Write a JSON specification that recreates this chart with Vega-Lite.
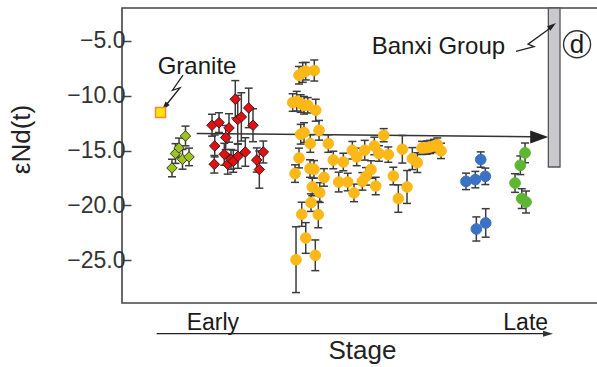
{
  "$schema": "https://vega.github.io/schema/vega-lite/v6.json",
  "width": 476,
  "height": 295,
  "autosize": {"type": "none"},
  "padding": {"left": 122, "top": 8, "right": 0, "bottom": 64},
  "config": {
    "font": "Liberation Sans",
    "view": {"stroke": "#444", "strokeWidth": 1.6},
    "axis": {"grid": false}
  },
  "datasets": {
    "pts": [
      {"p": 10.5, "v": -16.59, "lo": -17.39, "hi": -15.79, "g": "gd"},
      {"p": 11.24, "v": -15.27, "lo": -16.17, "hi": -14.37, "g": "gd"},
      {"p": 11.98, "v": -14.76, "lo": -15.66, "hi": -13.86, "g": "gd"},
      {"p": 12.71, "v": -15.8, "lo": -16.7, "hi": -14.9, "g": "gd"},
      {"p": 13.34, "v": -13.67, "lo": -14.57, "hi": -12.77, "g": "gd"},
      {"p": 14.08, "v": -15.58, "lo": -16.38, "hi": -14.78, "g": "gd"},
      {"p": 18.91, "v": -12.69, "lo": -13.69, "hi": -11.69, "g": "rd"},
      {"p": 20.38, "v": -12.45, "lo": -13.35, "hi": -11.55, "g": "rd"},
      {"p": 19.48, "v": -14.58, "lo": -15.58, "hi": -13.58, "g": "rd"},
      {"p": 19.39, "v": -16.25, "lo": -17.05, "hi": -15.45, "g": "rd"},
      {"p": 21.79, "v": -13.81, "lo": -14.91, "hi": -12.71, "g": "rd"},
      {"p": 21.49, "v": -15.34, "lo": -16.34, "hi": -14.34, "g": "rd"},
      {"p": 22.21, "v": -16.25, "lo": -17.15, "hi": -15.35, "g": "rd"},
      {"p": 22.48, "v": -12.94, "lo": -14.24, "hi": -11.64, "g": "rd"},
      {"p": 22.9, "v": -15.8, "lo": -16.7, "hi": -14.9, "g": "rd"},
      {"p": 23.38, "v": -15.98, "lo": -16.98, "hi": -14.98, "g": "rd"},
      {"p": 23.8, "v": -10.32, "lo": -12.02, "hi": -8.62, "g": "rd"},
      {"p": 24.37, "v": -15.52, "lo": -16.62, "hi": -14.42, "g": "rd"},
      {"p": 24.31, "v": -12.17, "lo": -14.37, "hi": -9.97, "g": "rd"},
      {"p": 25.07, "v": -11.93, "lo": -14.13, "hi": -9.73, "g": "rd"},
      {"p": 25.91, "v": -15.13, "lo": -16.43, "hi": -13.83, "g": "rd"},
      {"p": 26.62, "v": -11.11, "lo": -12.91, "hi": -9.31, "g": "rd"},
      {"p": 27.52, "v": -12.69, "lo": -14.19, "hi": -11.19, "g": "rd"},
      {"p": 28.3, "v": -15.86, "lo": -16.96, "hi": -14.76, "g": "rd"},
      {"p": 28.85, "v": -16.73, "lo": -18.43, "hi": -15.03, "g": "rd"},
      {"p": 29.69, "v": -15.13, "lo": -16.13, "hi": -14.13, "g": "rd"},
      {"p": 37.19, "v": -8.13, "lo": -8.93, "hi": -7.33, "g": "yc"},
      {"p": 37.97, "v": -7.88, "lo": -8.78, "hi": -6.98, "g": "yc"},
      {"p": 38.6, "v": -7.76, "lo": -8.56, "hi": -6.96, "g": "yc"},
      {"p": 40.4, "v": -7.7, "lo": -8.66, "hi": -6.74, "g": "yc"},
      {"p": 35.86, "v": -10.62, "lo": -11.42, "hi": -9.82, "g": "yc"},
      {"p": 36.7, "v": -10.5, "lo": -11.4, "hi": -9.6, "g": "yc"},
      {"p": 37.54, "v": -10.71, "lo": -11.51, "hi": -9.91, "g": "yc"},
      {"p": 38.24, "v": -10.87, "lo": -11.67, "hi": -10.07, "g": "yc"},
      {"p": 39.02, "v": -10.87, "lo": -11.57, "hi": -10.17, "g": "yc"},
      {"p": 40.7, "v": -11.32, "lo": -12.32, "hi": -10.32, "g": "yc"},
      {"p": 37.54, "v": -13.51, "lo": -14.41, "hi": -12.61, "g": "yc"},
      {"p": 38.24, "v": -13.36, "lo": -14.26, "hi": -12.46, "g": "yc"},
      {"p": 41.39, "v": -13.15, "lo": -14.05, "hi": -12.25, "g": "yc"},
      {"p": 39.56, "v": -14.36, "lo": -15.16, "hi": -13.56, "g": "yc"},
      {"p": 43.34, "v": -14.36, "lo": -15.16, "hi": -13.56, "g": "yc"},
      {"p": 37.19, "v": -15.68, "lo": -16.58, "hi": -14.78, "g": "yc"},
      {"p": 44.39, "v": -15.86, "lo": -16.66, "hi": -15.06, "g": "yc"},
      {"p": 36.35, "v": -17.1, "lo": -17.9, "hi": -16.3, "g": "yc"},
      {"p": 39.5, "v": -16.64, "lo": -17.44, "hi": -15.84, "g": "yc"},
      {"p": 40.34, "v": -16.71, "lo": -17.51, "hi": -15.91, "g": "yc"},
      {"p": 42.44, "v": -17.45, "lo": -18.25, "hi": -16.65, "g": "yc"},
      {"p": 39.98, "v": -18.32, "lo": -19.12, "hi": -17.52, "g": "yc"},
      {"p": 41.54, "v": -18.83, "lo": -19.73, "hi": -17.93, "g": "yc"},
      {"p": 39.71, "v": -19.75, "lo": -20.55, "hi": -18.95, "g": "yc"},
      {"p": 37.76, "v": -20.81, "lo": -21.91, "hi": -19.71, "g": "yc"},
      {"p": 41.24, "v": -20.84, "lo": -22.04, "hi": -19.64, "g": "yc"},
      {"p": 38.6, "v": -22.97, "lo": -24.37, "hi": -21.57, "g": "yc"},
      {"p": 40.61, "v": -24.55, "lo": -25.95, "hi": -23.15, "g": "yc"},
      {"p": 36.56, "v": -24.95, "lo": -27.95, "hi": -21.95, "g": "yc"},
      {"p": 45.53, "v": -17.87, "lo": -18.77, "hi": -16.97, "g": "yc"},
      {"p": 46.5, "v": -16.04, "lo": -16.84, "hi": -15.24, "g": "yc"},
      {"p": 47.42, "v": -17.87, "lo": -18.67, "hi": -17.07, "g": "yc"},
      {"p": 48.39, "v": -14.97, "lo": -15.77, "hi": -14.17, "g": "yc"},
      {"p": 49.31, "v": -15.58, "lo": -16.38, "hi": -14.78, "g": "yc"},
      {"p": 48.74, "v": -18.86, "lo": -19.66, "hi": -18.06, "g": "yc"},
      {"p": 50.99, "v": -14.97, "lo": -15.87, "hi": -14.07, "g": "yc"},
      {"p": 50.49, "v": -17.81, "lo": -18.61, "hi": -17.01, "g": "yc"},
      {"p": 51.26, "v": -17.35, "lo": -18.15, "hi": -16.55, "g": "yc"},
      {"p": 52.31, "v": -16.73, "lo": -17.53, "hi": -15.93, "g": "yc"},
      {"p": 53.01, "v": -14.58, "lo": -15.38, "hi": -13.78, "g": "yc"},
      {"p": 54.0, "v": -15.27, "lo": -15.97, "hi": -14.57, "g": "yc"},
      {"p": 53.3, "v": -18.23, "lo": -19.03, "hi": -17.43, "g": "yc"},
      {"p": 54.98, "v": -13.6, "lo": -14.2, "hi": -13.0, "g": "yc"},
      {"p": 55.95, "v": -15.37, "lo": -16.07, "hi": -14.67, "g": "yc"},
      {"p": 57.0, "v": -17.32, "lo": -18.12, "hi": -16.52, "g": "yc"},
      {"p": 58.05, "v": -19.38, "lo": -20.63, "hi": -18.13, "g": "yc"},
      {"p": 58.89, "v": -14.88, "lo": -16.14, "hi": -13.62, "g": "yc"},
      {"p": 59.88, "v": -18.32, "lo": -19.82, "hi": -16.82, "g": "yc"},
      {"p": 60.99, "v": -15.73, "lo": -16.73, "hi": -14.73, "g": "yc"},
      {"p": 62.04, "v": -16.1, "lo": -17.0, "hi": -15.2, "g": "yc"},
      {"p": 63.03, "v": -14.76, "lo": -15.36, "hi": -14.16, "g": "yc"},
      {"p": 64.02, "v": -14.73, "lo": -15.33, "hi": -14.13, "g": "yc"},
      {"p": 64.71, "v": -14.67, "lo": -15.27, "hi": -14.07, "g": "yc"},
      {"p": 65.55, "v": -14.58, "lo": -15.18, "hi": -13.98, "g": "yc"},
      {"p": 66.24, "v": -14.45, "lo": -15.05, "hi": -13.85, "g": "yc"},
      {"p": 67.02, "v": -15.03, "lo": -15.73, "hi": -14.33, "g": "yc"},
      {"p": 72.27, "v": -17.81, "lo": -18.56, "hi": -17.06, "g": "bc"},
      {"p": 74.23, "v": -17.65, "lo": -18.4, "hi": -16.9, "g": "bc"},
      {"p": 76.33, "v": -17.35, "lo": -18.1, "hi": -16.6, "g": "bc"},
      {"p": 75.36, "v": -15.82, "lo": -16.52, "hi": -15.12, "g": "bc"},
      {"p": 74.44, "v": -22.15, "lo": -23.25, "hi": -21.05, "g": "bc"},
      {"p": 76.41, "v": -21.6, "lo": -22.9, "hi": -20.3, "g": "bc"},
      {"p": 84.67, "v": -15.21, "lo": -16.11, "hi": -14.31, "g": "gc"},
      {"p": 83.68, "v": -16.34, "lo": -17.19, "hi": -15.49, "g": "gc"},
      {"p": 82.57, "v": -17.96, "lo": -18.81, "hi": -17.11, "g": "gc"},
      {"p": 83.98, "v": -19.38, "lo": -20.28, "hi": -18.48, "g": "gc"},
      {"p": 84.88, "v": -19.69, "lo": -20.69, "hi": -18.69, "g": "gc"}
    ],
    "granite": [{"p": 8.09, "v": -11.53}],
    "trend": [{"p": 15.69, "v": -13.44}, {"p": 85.93, "v": -13.74}],
    "bolts": [
      {"id": "granite", "o": 1, "p": 12.82, "v": -8.13},
      {"id": "granite", "o": 2, "p": 10.61, "v": -9.5},
      {"id": "granite", "o": 3, "p": 12.19, "v": -9.27},
      {"id": "granite", "o": 4, "p": 9.24, "v": -10.87},
      {"id": "banxi", "o": 1, "p": 82.78, "v": -5.95},
      {"id": "banxi", "o": 2, "p": 86.56, "v": -5.53},
      {"id": "banxi", "o": 3, "p": 85.3, "v": -5.3},
      {"id": "banxi", "o": 4, "p": 89.92, "v": -3.84},
      {"id": "stage", "o": 1, "p": 7.29, "v": -31.7},
      {"id": "stage", "o": 2, "p": 89.0, "v": -31.7}
    ],
    "banxi": [{"p1": 89.57, "p2": 92.02, "top": -2.0, "bot": -16.5}],
    "labels": [
      {"p": 7.5, "v": -8.04, "t": "Granite"},
      {"p": 52.46, "v": -6.15, "t": "Banxi Group"}
    ],
    "stagelabels": [
      {"p": 13.59, "v": -31.33, "t": "Early"},
      {"p": 80.11, "v": -31.33, "t": "Late"}
    ],
    "panel": [{"p": 95.6, "v": -5.3, "t": "d"}]
  },
  "encoding": {
    "x": {"field": "p", "type": "quantitative", "scale": {"domain": [0, 100], "nice": false, "zero": false},
      "axis": {"title": "Stage", "labels": false, "ticks": false, "domain": false, "titleFontSize": 26, "titleFontWeight": "normal", "titleColor": "#222", "titleX": 240, "titleY": 55, "titleBaseline": "alphabetic"}},
    "y": {"field": "v", "type": "quantitative", "scale": {"domain": [-28.9, -2.0], "nice": false, "zero": false},
      "axis": {"title": "εNd(t)", "values": [-25, -20, -15, -10, -5], "format": ".1f", "domain": false, "tickSize": -9, "tickWidth": 1.5, "tickColor": "#444", "labelPadding": 6, "labelFontSize": 23, "labelColor": "#333", "titleFontSize": 26, "titleFontWeight": "normal", "titleColor": "#222", "titleAngle": -90, "titleX": -101, "titleY": 131, "titleAlign": "center", "titleBaseline": "middle"}}
  },
  "layer": [
    {"data": {"name": "banxi"}, "mark": {"type": "rect", "fill": "#c9c9cd", "stroke": "#555", "strokeWidth": 1.3},
      "encoding": {"x": {"field": "p1", "type": "quantitative"}, "x2": {"field": "p2"}, "y": {"field": "top", "type": "quantitative"}, "y2": {"field": "bot"}}},
    {"data": {"name": "trend"}, "mark": {"type": "line", "color": "#333", "strokeWidth": 1.6}, "encoding": {}},
    {"data": {"name": "bolts"}, "mark": {"type": "line", "color": "#222", "strokeWidth": 1.3},
      "encoding": {"detail": {"field": "id"}, "order": {"field": "o", "type": "quantitative"}}},
    {"data": {"values": [{"p": 87.65, "v": -13.76}]}, "mark": {"type": "point", "shape": "M-1,-0.72L1,0L-1,0.72Z", "size": 324, "filled": true, "color": "#222", "opacity": 1}, "encoding": {}},
    {"data": {"values": [{"p": 8.99, "v": -11.0}]}, "mark": {"type": "point", "shape": "M-1,-0.6L1,0L-1,0.6Z", "size": 81, "filled": true, "color": "#222", "opacity": 1, "angle": 129}, "encoding": {}},
    {"data": {"values": [{"p": 90.41, "v": -3.62}]}, "mark": {"type": "point", "shape": "M-1,-0.6L1,0L-1,0.6Z", "size": 81, "filled": true, "color": "#222", "opacity": 1, "angle": -37}, "encoding": {}},
    {"data": {"values": [{"p": 89.5, "v": -31.7}]}, "mark": {"type": "point", "shape": "M-1,-0.6L1,0L-1,0.6Z", "size": 100, "filled": true, "color": "#333", "opacity": 1}, "encoding": {}},
    {"data": {"name": "pts"}, "mark": {"type": "rule", "color": "#3c3c3c", "strokeWidth": 1.5},
      "encoding": {"y": {"field": "lo", "type": "quantitative"}, "y2": {"field": "hi"}}},
    {"data": {"name": "pts"}, "mark": {"type": "tick", "orient": "horizontal", "size": 8, "thickness": 1.5, "color": "#3c3c3c", "opacity": 1},
      "encoding": {"y": {"field": "lo", "type": "quantitative"}}},
    {"data": {"name": "pts"}, "mark": {"type": "tick", "orient": "horizontal", "size": 8, "thickness": 1.5, "color": "#3c3c3c", "opacity": 1},
      "encoding": {"y": {"field": "hi", "type": "quantitative"}}},
    {"data": {"name": "pts"}, "mark": {"type": "point", "filled": true, "opacity": 1, "strokeWidth": 1},
      "encoding": {
        "shape": {"field": "g", "type": "nominal", "scale": {"domain": ["gd", "rd", "yc", "bc", "gc"], "range": ["diamond", "diamond", "circle", "circle", "circle"]}, "legend": null},
        "fill": {"field": "g", "type": "nominal", "scale": {"domain": ["gd", "rd", "yc", "bc", "gc"], "range": ["#9cc31e", "#e30f12", "#fbb817", "#3b72c4", "#5db632"]}, "legend": null},
        "stroke": {"field": "g", "type": "nominal", "scale": {"domain": ["gd", "rd", "yc", "bc", "gc"], "range": ["#3a3a25", "#3a1a1a", "#fbb817", "#3b72c4", "#5db632"]}, "legend": null},
        "size": {"field": "g", "type": "nominal", "scale": {"domain": ["gd", "rd", "yc", "bc", "gc"], "range": [110, 115, 80, 90, 85]}, "legend": null}
      }},
    {"data": {"name": "granite"}, "mark": {"type": "point", "shape": "square", "size": 100, "filled": true, "fill": "#ffe500", "stroke": "#f0893a", "strokeWidth": 1.5, "opacity": 1}, "encoding": {}},
    {"data": {"name": "labels"}, "mark": {"type": "text", "align": "left", "baseline": "alphabetic", "fontSize": 24, "color": "#1a1a1a"},
      "encoding": {"text": {"field": "t"}}},
    {"data": {"name": "stagelabels"}, "mark": {"type": "text", "align": "left", "baseline": "alphabetic", "fontSize": 23, "color": "#1a1a1a"},
      "encoding": {"text": {"field": "t"}}},
    {"data": {"name": "panel"}, "mark": {"type": "point", "shape": "circle", "size": 730, "filled": false, "stroke": "#333", "strokeWidth": 1.4, "opacity": 1}, "encoding": {}},
    {"data": {"name": "panel"}, "mark": {"type": "text", "align": "center", "baseline": "middle", "fontSize": 26, "color": "#1a1a1a", "dy": 1},
      "encoding": {"text": {"field": "t"}}}
  ]
}
